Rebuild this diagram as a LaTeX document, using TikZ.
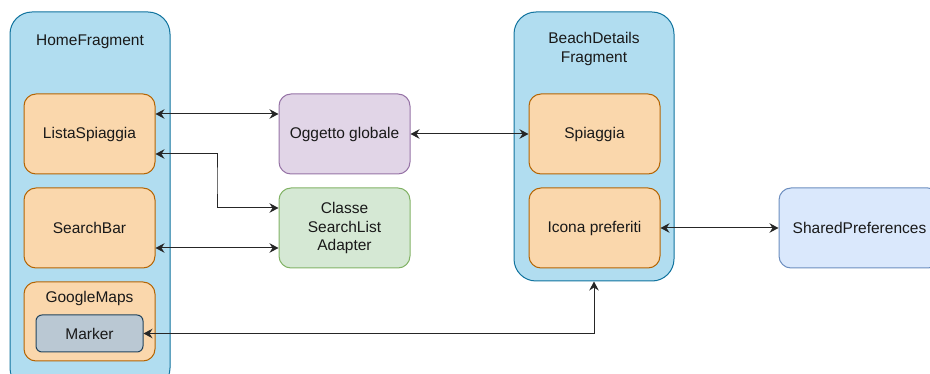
\documentclass[tikz,border=0pt]{standalone}
\usepackage{fontspec}
\setmainfont{Liberation Sans}
\usetikzlibrary{arrows.meta,calc}

\definecolor{contfill}{HTML}{B1DDF0}
\definecolor{contline}{HTML}{10739E}
\definecolor{orfill}{HTML}{FAD7AC}
\definecolor{orline}{HTML}{B46504}
\definecolor{purfill}{HTML}{E1D5E7}
\definecolor{purline}{HTML}{9673A6}
\definecolor{grfill}{HTML}{D5E8D4}
\definecolor{grline}{HTML}{82B366}
\definecolor{blfill}{HTML}{DAE8FC}
\definecolor{blline}{HTML}{6C8EBF}
\definecolor{mkfill}{HTML}{BAC8D3}
\definecolor{mkline}{HTML}{23445D}

\tikzset{
  base/.style={draw, line width=1pt, rectangle, inner sep=0pt, align=center,
    font=\fontsize{15.5}{18.5}\selectfont, text=black!90},
  container/.style={base, fill=contfill, draw=contline, rounded corners=22pt,
    minimum width=160pt},
  item/.style={base, fill=orfill, draw=orline, rounded corners=12pt,
    minimum width=131pt, minimum height=80pt},
  global/.style={base, fill=purfill, draw=purline, rounded corners=12pt,
    minimum width=131pt, minimum height=80pt},
  adapter/.style={base, fill=grfill, draw=grline, rounded corners=12pt,
    minimum width=131pt, minimum height=80pt},
  prefs/.style={base, fill=blfill, draw=blline, rounded corners=12pt,
    minimum width=161pt, minimum height=80pt},
  markerbox/.style={base, fill=mkfill, draw=mkline, rounded corners=6pt,
    minimum width=107pt, minimum height=37pt},
  label/.style={align=center, inner sep=0pt, font=\fontsize{15.5}{18.5}\selectfont,
    text=black!90},
  tip/.style={Stealth[length=9pt,width=9.5pt,inset=3pt]},
  link/.style={line width=1pt, black!85, {Stealth[length=9pt,width=9.5pt,inset=3pt]}-{Stealth[length=9pt,width=9.5pt,inset=3pt]}},
}

\begin{document}
\begin{tikzpicture}[x=1pt,y=-1pt]
\useasboundingbox (0,0) rectangle (930,374);
\clip (0,0) rectangle (930,374);

% containers
\node[container, minimum height=378pt] (home) at (90,201) {};
\node[label] (homelbl) at (90,42) {HomeFragment};
\node[container, minimum height=269pt] (beach) at (594,146.5) {};
\node[label] (beachlbl) at (594,49) {BeachDetails\\Fragment};

% HomeFragment content
\node[item] (lista) at (89.5,134) {ListaSpiaggia};
\node[item] (search) at (89.5,228) {SearchBar};
\node[item, minimum height=79pt] (gmaps) at (89.5,321.5) {};
\node[label] (gmapslbl) at (89.5,298) {GoogleMaps};
\node[markerbox] (marker) at (89.5,333.5) {Marker};

% middle column
\node[global] (ogg) at (344.5,134) {Oggetto globale};
\node[adapter] (classe) at (344.5,228) {Classe\\SearchList\\Adapter};

% BeachDetailsFragment content
\node[item] (spiaggia) at (594.5,134) {Spiaggia};
\node[item] (icona) at (594.5,228) {Icona preferiti};

% storage
\node[prefs] (shared) at (859.5,228) {SharedPreferences};

% connectors
\draw[link] ([yshift=20pt]lista.east) -- ([yshift=20pt]ogg.west);
\draw[link] ([yshift=-20pt]lista.east) -| ($(lista.east)!0.5!(classe.west)$)
            |- ([yshift=20pt]classe.west);
\draw[link] ([yshift=-20pt]search.east) -- ([yshift=-20pt]classe.west);
\draw[link] (ogg.east) -- (spiaggia.west);
\draw[link] (icona.east) -- (shared.west);
\draw[link] (marker.east) -| (beach.south);
\end{tikzpicture}
\end{document}
